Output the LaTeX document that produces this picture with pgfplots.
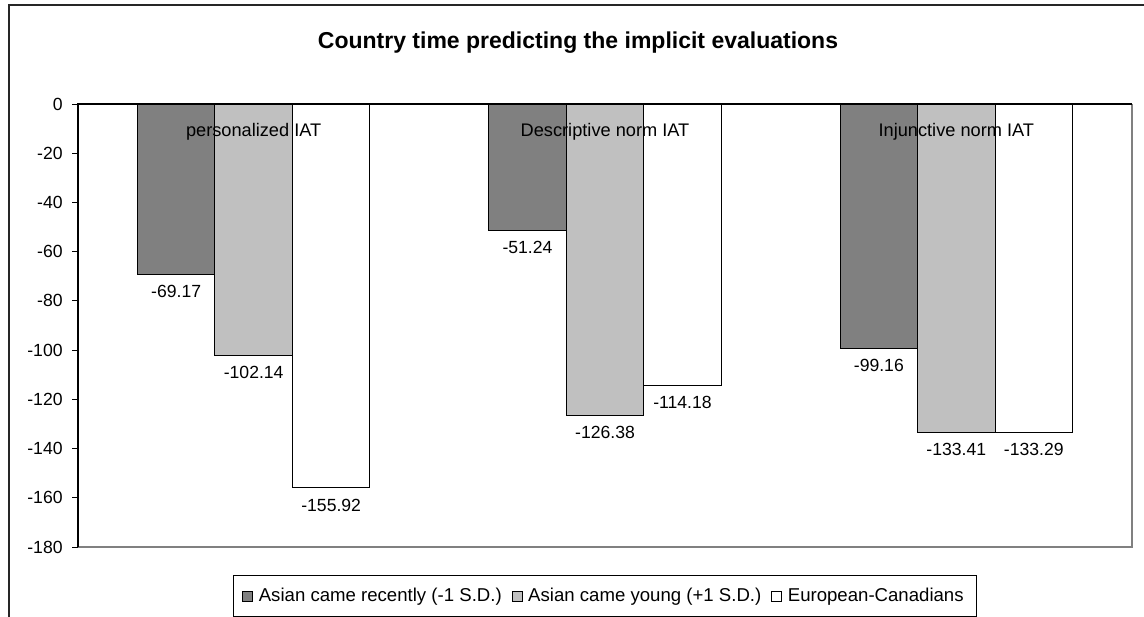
\documentclass[border=0pt]{standalone}
\usepackage{fontspec}
\setmainfont{Liberation Sans}
\usepackage{pgfplots}
\pgfplotsset{compat=1.18}
\definecolor{darkbar}{HTML}{808080}
\definecolor{lightbar}{HTML}{C0C0C0}
\definecolor{axgray}{HTML}{808080}
\newcommand\lblfont{\fontsize{8.8pt}{10.5pt}\selectfont}
\newcommand\catfont{\fontsize{9.1pt}{11pt}\selectfont}
\newcommand\legfont{\fontsize{9.3pt}{11pt}\selectfont}
\pgfplotsset{
  sqlegend/.style={legend image code/.code={\draw[##1, line width=0.5pt] (0pt,-2.5pt) rectangle (5pt,2.5pt); \path[draw=none, fill=none] (0pt,0pt) -- (6pt,0pt);}},
}
\begin{document}
\begin{tikzpicture}
\draw[black!85, line width=0.6pt] (4.5pt,-330pt) -- (4.5pt,-2.5pt) -- (600pt,-2.5pt);
\begin{axis}[
  at={(39pt,-52pt)}, anchor=north west,
  scale only axis, width=527pt, height=221.5pt,
  xmin=-0.5, xmax=2.5, ymin=-180, ymax=0,
  clip=false,
  axis on top,
  ybar, bar width=38.75pt,
  axis line style={draw=none},
  xtick={0,1,2},
  xticklabels={personalized IAT, Descriptive norm IAT, Injunctive norm IAT},
  xticklabel pos=upper,
  x tick style={draw=none},
  x tick label style={anchor=center, yshift=-17pt, font=\catfont},
  ytick={-180,-160,...,0},
  ytick pos=left,
  y tick style={black, line width=0.5pt},
  tick align=outside,
  major tick length=3pt,
  y tick label style={font=\lblfont, inner sep=0pt, xshift=-4.5pt},
  /pgf/number format/assume math mode=true,
  legend columns=3,
  legend cell align=left,
  legend style={at={(0.5,-0.1106)}, anchor=center, draw=black, line width=0.5pt,
    font=\legfont, inner xsep=4.5pt, inner ysep=4pt,
    /tikz/every even column/.append style={column sep=3pt}},
  nodes near coords,
  point meta=explicit symbolic,
  every node near coord/.append style={font=\lblfont, anchor=north, inner sep=0pt, yshift=-5.3pt},
]
\addplot[bar shift=-38.75pt, fill=darkbar, draw=black, line width=0.5pt, sqlegend]
  coordinates {(0,-69.17) [-69.17] (1,-51.24) [-51.24] (2,-99.16) [-99.16]};
\addplot[bar shift=0pt, fill=lightbar, draw=black, line width=0.5pt, sqlegend]
  coordinates {(0,-102.14) [-102.14] (1,-126.38) [-126.38] (2,-133.41) [-133.41]};
\addplot[bar shift=38.75pt, fill=white, draw=black, line width=0.5pt, sqlegend]
  coordinates {(0,-155.92) [-155.92] (1,-114.18) [-114.18] (2,-133.29) [-133.29]};
\legend{Asian came recently (-1 S.D.), Asian came young (+1 S.D.), European-Canadians}
\draw[axgray, line width=0.6pt] (rel axis cs:1,1) -- (rel axis cs:1,0) -- (rel axis cs:0,0);
\draw[black, line width=0.6pt] (rel axis cs:0,0) -- (rel axis cs:0,1) -- (rel axis cs:1,1);
\end{axis}
\node[font=\fontsize{11.5pt}{13pt}\selectfont\bfseries] at (289pt,-21.5pt) {Country time predicting the implicit evaluations};
\pgfresetboundingbox
\path[use as bounding box] (0,0) rectangle (572pt,-308pt);
\end{tikzpicture}
\end{document}
